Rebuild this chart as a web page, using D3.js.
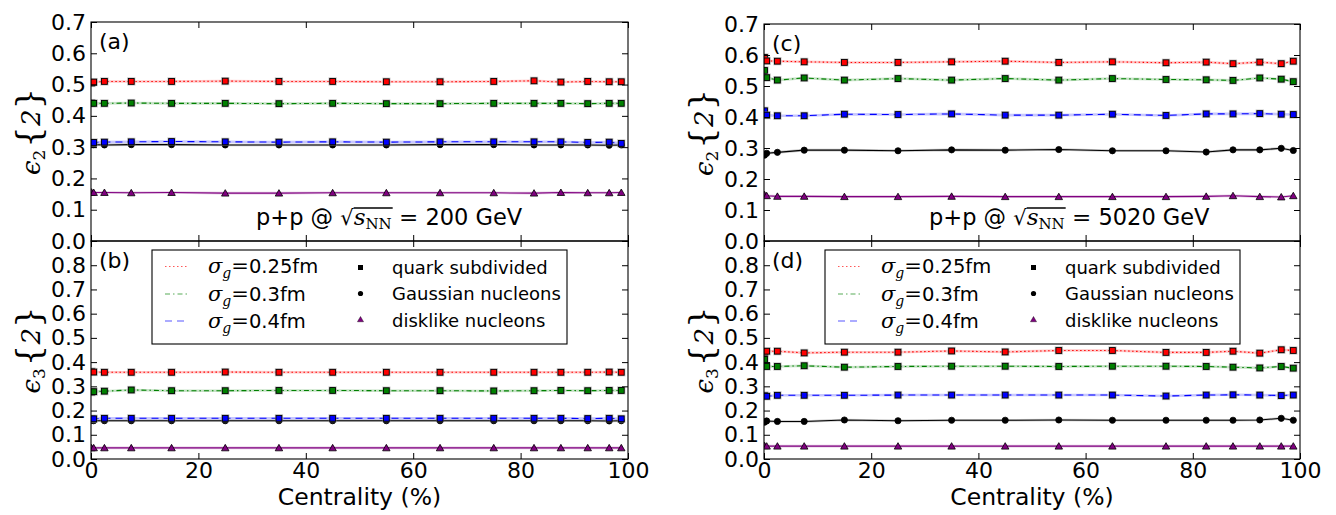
<!DOCTYPE html>
<html>
<head>
<meta charset="utf-8">
<script src="https://cdn.jsdelivr.net/npm/d3@7"></script>
<style>
  body { margin: 0; background: #fff; }
  svg { display: block; }
</style>
</head>
<body>
<script>
// Centrality bins (%)
const centrality = [0.1, 0.5, 2.5, 7.5, 15, 25, 35, 45, 55, 65, 75, 82.5, 87.5, 92.5, 96.5, 98.75];

// eps2{2}, p+p at 200 GeV
const e2_200_sg025 = [0.505, 0.508, 0.510, 0.510, 0.510, 0.511, 0.510, 0.510, 0.509, 0.509, 0.510, 0.512, 0.508, 0.510, 0.509, 0.509];
const e2_200_sg03  = [0.441, 0.440, 0.440, 0.441, 0.440, 0.440, 0.439, 0.440, 0.439, 0.439, 0.440, 0.440, 0.440, 0.439, 0.440, 0.440];
const e2_200_sg04  = [0.313, 0.315, 0.316, 0.317, 0.318, 0.317, 0.316, 0.317, 0.316, 0.317, 0.317, 0.317, 0.317, 0.315, 0.316, 0.312];
const e2_200_gauss = [0.310, 0.308, 0.307, 0.308, 0.308, 0.307, 0.307, 0.307, 0.307, 0.308, 0.308, 0.307, 0.307, 0.307, 0.306, 0.307];
const e2_200_disk  = [0.156, 0.155, 0.155, 0.154, 0.155, 0.153, 0.153, 0.154, 0.154, 0.154, 0.154, 0.153, 0.155, 0.154, 0.154, 0.155];

// eps3{2}, p+p at 200 GeV
const e3_200_sg025 = [0.361, 0.359, 0.358, 0.358, 0.358, 0.359, 0.358, 0.358, 0.358, 0.358, 0.358, 0.358, 0.358, 0.358, 0.359, 0.358];
const e3_200_sg03  = [0.276, 0.278, 0.280, 0.285, 0.282, 0.282, 0.283, 0.283, 0.282, 0.282, 0.281, 0.282, 0.283, 0.282, 0.283, 0.283];
const e3_200_sg04  = [0.165, 0.166, 0.168, 0.168, 0.168, 0.168, 0.168, 0.168, 0.168, 0.168, 0.168, 0.168, 0.168, 0.167, 0.168, 0.166];
const e3_200_gauss = [0.159, 0.158, 0.158, 0.158, 0.158, 0.158, 0.158, 0.158, 0.158, 0.158, 0.158, 0.158, 0.158, 0.158, 0.157, 0.158];
const e3_200_disk  = [0.046, 0.046, 0.046, 0.046, 0.046, 0.046, 0.046, 0.046, 0.046, 0.046, 0.046, 0.046, 0.046, 0.046, 0.046, 0.046];

// eps2{2}, p+p at 5020 GeV
const e2_5020_sg025 = [0.592, 0.581, 0.580, 0.578, 0.576, 0.576, 0.578, 0.580, 0.576, 0.578, 0.575, 0.577, 0.572, 0.577, 0.572, 0.580];
const e2_5020_sg03  = [0.550, 0.527, 0.519, 0.526, 0.519, 0.524, 0.519, 0.524, 0.519, 0.524, 0.521, 0.520, 0.518, 0.526, 0.522, 0.514];
const e2_5020_sg04  = [0.420, 0.406, 0.404, 0.404, 0.409, 0.408, 0.410, 0.406, 0.406, 0.409, 0.405, 0.410, 0.410, 0.411, 0.409, 0.408];
const e2_5020_gauss = [0.277, 0.283, 0.286, 0.293, 0.293, 0.291, 0.294, 0.293, 0.295, 0.291, 0.291, 0.287, 0.294, 0.294, 0.299, 0.292];
const e2_5020_disk  = [0.149, 0.146, 0.144, 0.144, 0.143, 0.143, 0.144, 0.143, 0.143, 0.143, 0.143, 0.144, 0.146, 0.143, 0.142, 0.146];

// eps3{2}, p+p at 5020 GeV
const e3_5020_sg025 = [0.440, 0.445, 0.445, 0.438, 0.441, 0.441, 0.446, 0.442, 0.448, 0.448, 0.440, 0.440, 0.445, 0.437, 0.451, 0.448];
const e3_5020_sg03  = [0.411, 0.382, 0.382, 0.385, 0.379, 0.382, 0.383, 0.383, 0.382, 0.383, 0.383, 0.382, 0.379, 0.376, 0.382, 0.375];
const e3_5020_sg04  = [0.262, 0.259, 0.263, 0.263, 0.263, 0.264, 0.264, 0.264, 0.264, 0.264, 0.260, 0.264, 0.265, 0.264, 0.262, 0.264];
const e3_5020_gauss = [0.152, 0.157, 0.155, 0.155, 0.161, 0.158, 0.160, 0.160, 0.161, 0.160, 0.160, 0.160, 0.160, 0.161, 0.168, 0.160];
const e3_5020_disk  = [0.055, 0.053, 0.053, 0.053, 0.053, 0.053, 0.053, 0.053, 0.053, 0.053, 0.053, 0.053, 0.053, 0.053, 0.053, 0.053];

// Axis ticks
const xTickValues = [0, 20, 40, 60, 80, 100];
const yTicksE2 = [0, 0.1, 0.2, 0.3, 0.4, 0.5, 0.6, 0.7];
const yTicksE3 = [0, 0.1, 0.2, 0.3, 0.4, 0.5, 0.6, 0.7, 0.8, 0.9];

// Legend text
const widthLabels = ["0.25fm", "0.3fm", "0.4fm"];
const profileLabels = ["quark subdivided", "Gaussian nucleons", "disklike nucleons"];
const energies = ["200", "5020"];

const W = 1336, H = 515;
const SANS = "DejaVu Sans, sans-serif";
const SERIF = "DejaVu Serif, serif";

const svg = d3.select("body").append("svg")
  .attr("width", W).attr("height", H)
  .attr("viewBox", `0 0 ${W} ${H}`);

// series styles: sigma_g = 0.25, 0.3, 0.4 (quark subdivided), Gaussian, disklike
const styles = [
  { color: "#ff0000", dash: "1.5,2.5", marker: "square" },
  { color: "#008000", dash: "5,3,1.5,3", marker: "square" },
  { color: "#0000ff", dash: "7,5", marker: "square" },
  { color: "#000000", dash: null, marker: "circle" },
  { color: "#800080", dash: null, marker: "triangle" }
];
const drawOrder = [3, 4, 0, 1, 2];

const columns = [
  { left: 91, right: 628, top: 22 },
  { left: 764, right: 1300, top: 24 }
];
const mid = 241, bottom = 459;

const panels = [
  { col: 0, row: 0, label: "(a)", harm: "2", ticks: yTicksE2, max: 0.7,
    series: [e2_200_sg025, e2_200_sg03, e2_200_sg04, e2_200_gauss, e2_200_disk] },
  { col: 0, row: 1, label: "(b)", harm: "3", ticks: yTicksE3, max: 0.9,
    series: [e3_200_sg025, e3_200_sg03, e3_200_sg04, e3_200_gauss, e3_200_disk] },
  { col: 1, row: 0, label: "(c)", harm: "2", ticks: yTicksE2, max: 0.7,
    series: [e2_5020_sg025, e2_5020_sg03, e2_5020_sg04, e2_5020_gauss, e2_5020_disk] },
  { col: 1, row: 1, label: "(d)", harm: "3", ticks: yTicksE3, max: 0.9,
    series: [e3_5020_sg025, e3_5020_sg03, e3_5020_sg04, e3_5020_gauss, e3_5020_disk] }
];

function addMarker(g, kind, cx, cy, fill) {
  if (kind === "square") {
    const a = 5.8;
    g.append("rect").attr("x", cx - a / 2 - 1.2).attr("y", cy - a / 2 - 1.2)
      .attr("width", a + 2.4).attr("height", a + 2.4).attr("fill", "#8c8c8c").attr("opacity", 0.5);
    g.append("rect").attr("x", cx - a / 2).attr("y", cy - a / 2)
      .attr("width", a).attr("height", a).attr("fill", fill)
      .attr("stroke", "#000").attr("stroke-width", 0.9);
  } else if (kind === "circle") {
    g.append("circle").attr("cx", cx).attr("cy", cy).attr("r", 3.1)
      .attr("fill", fill).attr("stroke", "#000").attr("stroke-width", 0.8);
  } else {
    const tri = d3.symbol().type(d3.symbolTriangle).size(24);
    g.append("path").attr("d", tri()).attr("transform", `translate(${cx},${cy + 0.8})`)
      .attr("fill", fill).attr("stroke", "#000").attr("stroke-width", 0.8);
  }
}

panels.forEach((p, i) => {
  const c = columns[p.col];
  const top = p.row === 0 ? c.top : mid;
  const bot = p.row === 0 ? mid : bottom;
  const x = d3.scaleLinear().domain([0, 100]).range([c.left, c.right]);
  const y = d3.scaleLinear().domain([0, p.max]).range([bot, top]);
  const g = svg.append("g");

  const clipId = "clip" + i;
  svg.append("clipPath").attr("id", clipId).append("rect")
    .attr("x", c.left).attr("y", top).attr("width", c.right - c.left).attr("height", bot - top);
  const plot = g.append("g").attr("clip-path", `url(#${clipId})`);

  const line = d3.line().x((d, k) => x(centrality[k])).y(d => y(d));

  drawOrder.forEach(si => {
    const st = styles[si];
    const vals = p.series[si];
    plot.append("path").datum(vals).attr("d", line)
      .attr("fill", "none").attr("stroke", st.color).attr("stroke-width", 2.6).attr("opacity", 0.22);
    plot.append("path").datum(vals).attr("d", line)
      .attr("fill", "none").attr("stroke", st.color).attr("stroke-width", 1.1)
      .attr("stroke-dasharray", st.dash);
    const mg = plot.append("g");
    vals.forEach((v, k) => addMarker(mg, st.marker, x(centrality[k]), y(v), st.color));
  });

  // frame
  g.append("rect").attr("x", c.left).attr("y", top).attr("width", c.right - c.left).attr("height", bot - top)
    .attr("fill", "none").attr("stroke", "#000").attr("stroke-width", 1.1);

  const tick = 6;
  const styleAxis = sel => {
    sel.select(".domain").remove();
    sel.attr("font-family", SANS).attr("font-size", 22);
    sel.selectAll("line").attr("stroke", "#000").attr("stroke-width", 1);
    sel.selectAll("text").attr("fill", "#000");
  };

  // y axes (left with labels, right ticks only)
  const yFmt = v => (p.row === 1 && Math.abs(v - 0.9) < 1e-9) ? "" : v.toFixed(1);
  g.append("g").attr("transform", `translate(${c.left},0)`)
    .call(d3.axisLeft(y).tickValues(p.ticks).tickSizeInner(-tick).tickSizeOuter(0).tickPadding(5).tickFormat(yFmt))
    .call(styleAxis);
  g.append("g").attr("transform", `translate(${c.right},0)`)
    .call(d3.axisRight(y).tickValues(p.ticks).tickSizeInner(-tick).tickSizeOuter(0).tickFormat(() => ""))
    .call(styleAxis);

  // x axes (top ticks, bottom ticks with labels only on the lower row)
  g.append("g").attr("transform", `translate(0,${top})`)
    .call(d3.axisTop(x).tickValues(xTickValues).tickSizeInner(-tick).tickSizeOuter(0).tickFormat(() => ""))
    .call(styleAxis);
  g.append("g").attr("transform", `translate(0,${bot})`)
    .call(d3.axisBottom(x).tickValues(xTickValues).tickSizeInner(-tick).tickSizeOuter(0).tickPadding(3)
      .tickFormat(p.row === 1 ? d3.format("d") : () => ""))
    .call(styleAxis);

  // panel label
  g.append("text").attr("x", c.left + 8).attr("y", top + 27)
    .attr("font-family", SANS).attr("font-size", 22).text(p.label);

  // y-axis title: eps_n{2}
  const yl = g.append("text")
    .attr("transform", `translate(${c.left - 51},${(top + bot) / 2}) rotate(-90)`)
    .attr("text-anchor", "middle").attr("font-family", SERIF);
  yl.append("tspan").attr("font-style", "italic").attr("font-size", 26).text("ϵ");
  yl.append("tspan").attr("font-size", 17).attr("dy", 5).text(p.harm);
  yl.append("tspan").attr("font-size", 34).attr("dy", -5).attr("dx", 2).text("{");
  yl.append("tspan").attr("font-style", "italic").attr("font-size", 26).text("2");
  yl.append("tspan").attr("font-size", 34).text("}");

  if (p.row === 0) {
    // collision system annotation
    const base = bot - 16;
    const t = g.append("text").attr("x", c.left + 165).attr("y", base)
      .attr("font-family", SANS).attr("font-size", 22.5);
    t.append("tspan").text("p+p @ ");
    t.append("tspan").attr("font-family", SERIF).attr("font-size", 21).text("√");
    t.append("tspan").attr("font-family", SERIF).attr("font-style", "italic").attr("font-size", 23).text("s");
    t.append("tspan").attr("font-family", SERIF).attr("font-size", 15).attr("dy", 4).text("NN");
    t.append("tspan").attr("font-family", SERIF).attr("font-size", 23).attr("dy", -4).text(" =");
    t.append("tspan").text("  " + energies[p.col] + " GeV");
    const node = t.node();
    const x0 = node.getEndPositionOfChar(6).x;
    const x1 = node.getEndPositionOfChar(9).x + 1;
    g.append("line").attr("x1", x0).attr("x2", x1).attr("y1", base - 17).attr("y2", base - 17)
      .attr("stroke", "#000").attr("stroke-width", 1.4);
  } else {
    // legend
    const lx = c.left + 61, ly = 250;
    const lg = g.append("g");
    lg.append("rect").attr("x", lx).attr("y", ly).attr("width", 415).attr("height", 94)
      .attr("fill", "#fff").attr("stroke", "#000").attr("stroke-width", 1.1);
    const rowsY = [ly + 16.5, ly + 44, ly + 71];
    widthLabels.forEach((lab, k) => {
      const st = styles[k];
      lg.append("line").attr("x1", lx + 13).attr("x2", lx + 36).attr("y1", rowsY[k]).attr("y2", rowsY[k])
        .attr("stroke", st.color).attr("stroke-width", 1.1).attr("stroke-dasharray", st.dash).attr("opacity", 0.65);
      const tt = lg.append("text").attr("x", lx + 56).attr("y", rowsY[k] + 6.5).attr("font-size", 19.5);
      tt.append("tspan").attr("font-family", SERIF).attr("font-style", "italic").attr("font-size", 21).text("σ");
      tt.append("tspan").attr("font-family", SERIF).attr("font-style", "italic").attr("font-size", 14).attr("dy", 5).text("g");
      tt.append("tspan").attr("font-family", SERIF).attr("font-size", 21).attr("dy", -5).text("=");
      tt.append("tspan").attr("font-family", SANS).text(lab);
    });
    const legendMarkers = ["square", "circle", "triangle"];
    profileLabels.forEach((lab, k) => {
      const my = [ly + 17.5, ly + 43.5, ly + 70][k];
      const mg = lg.append("g");
      if (legendMarkers[k] === "square") {
        mg.append("rect").attr("x", lx + 206).attr("y", my - 2.5).attr("width", 5).attr("height", 5).attr("fill", "#000");
      } else if (legendMarkers[k] === "circle") {
        mg.append("circle").attr("cx", lx + 208.5).attr("cy", my).attr("r", 2.6).attr("fill", "#000");
      } else {
        mg.append("path").attr("d", d3.symbol().type(d3.symbolTriangle).size(16)())
          .attr("transform", `translate(${lx + 208.5},${my})`).attr("fill", "#800080").attr("stroke", "#000").attr("stroke-width", 0.4);
      }
      lg.append("text").attr("x", lx + 240).attr("y", my + 6.5)
        .attr("font-family", SANS).attr("font-size", 18).text(lab);
    });
  }

  // x-axis title under the lower panels
  if (p.row === 1) {
    g.append("text").attr("x", (c.left + c.right) / 2).attr("y", 505)
      .attr("text-anchor", "middle").attr("font-family", SANS).attr("font-size", 23.5)
      .text("Centrality (%)");
  }
});
</script>
</body>
</html>
